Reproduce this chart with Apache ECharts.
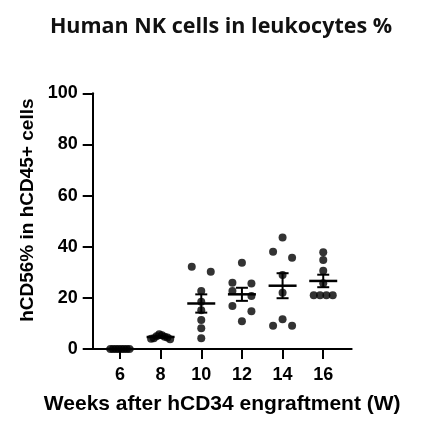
<!DOCTYPE html>
<html><head><meta charset="utf-8">
<script src="https://cdn.jsdelivr.net/npm/echarts@6/dist/echarts.min.js"></script>
<style>html,body{margin:0;padding:0;background:#fff}#c{width:423px;height:444px}</style>
</head><body><div id="c"></div>
<script>
// ---- data ----
const weeks = [6, 8, 10, 12, 14, 16];
const wk6  = [0, 0, 0, 0, 0, 0, 0, 0];
const wk8  = [5.8, 5.4, 5.0, 4.8, 4.5, 4.2, 4.0, 3.8];
const wk10 = [32.2, 30.2, 22.7, 18.5, 15.2, 11.3, 8.1, 4.2];
const wk12 = [33.7, 25.9, 25.6, 22.7, 20.7, 16.8, 14.8, 10.9];
const wk14 = [43.6, 38.0, 35.7, 28.9, 22.0, 11.6, 9.1, 9.1];
const wk16 = [37.8, 34.8, 30.6, 25.7, 21.0, 21.0, 21.0, 21.0];
const yTicks = [0, 20, 40, 60, 80, 100];
const titleText = 'Human NK cells in leukocytes %';
const yName = 'hCD56% in hCD45+ cells';
const xName = 'Weeks after hCD34 engraftment (W)';

const groups = [wk6, wk8, wk10, wk12, wk14, wk16];

const chart = echarts.init(document.getElementById('c'), null, {renderer: 'canvas'});
const FONT = '"Liberation Sans", Arial, sans-serif';
const black = '#000';

const baseOption = {
  animation: false,
  backgroundColor: '#fff',
  title: {
    text: titleText, left: 221, top: 16, textAlign: 'center', padding: 0,
    textStyle: {fontFamily: '"Open Sans", sans-serif', fontWeight: 'bold', fontSize: 21.5, color: '#111'}
  },
  grid: {left: 92.7, right: 71.3, top: 93.3, bottom: 95, containLabel: false},
  xAxis: {
    type: 'value', min: 4.66, max: 17.4,
    name: xName, nameLocation: 'middle', nameGap: 45,
    nameTextStyle: {fontFamily: FONT, fontWeight: 'bold', fontSize: 21, color: black},
    axisLine: {show: true, onZero: true, lineStyle: {color: black, width: 2}},
    axisTick: {show: true, customValues: weeks, length: 10, lineStyle: {color: black, width: 2}},
    axisLabel: {customValues: weeks, margin: 17, fontFamily: FONT, fontWeight: 'bold', fontSize: 18, color: black},
    splitLine: {show: false}
  },
  yAxis: {
    type: 'value', min: yTicks[0], max: yTicks[yTicks.length - 1], interval: 20,
    name: yName, nameLocation: 'middle', nameGap: 44,
    nameTextStyle: {fontFamily: FONT, fontWeight: 'bold', fontSize: 19, color: black, padding: [0, 0, 0, 22]},
    axisLine: {show: true, lineStyle: {color: black, width: 2}},
    axisTick: {show: true, length: 10, lineStyle: {color: black, width: 2}},
    axisLabel: {margin: 15, fontFamily: FONT, fontWeight: 'bold', fontSize: 18, color: black},
    splitLine: {show: false}
  },
  series: []
};
chart.setOption(baseOption);

// pixel scale of x axis to spread points horizontally (beeswarm-like layout)
const pxPerX = chart.convertToPixel({xAxisIndex: 0}, 1) - chart.convertToPixel({xAxisIndex: 0}, 0);
const binThreshold = 2.7; // value units

function swarm(week, vals) {
  const sorted = vals.slice().sort((a, b) => b - a);
  const clusters = [];
  sorted.forEach(v => {
    const c = clusters[clusters.length - 1];
    if (c && c[0] - v < binThreshold) c.push(v); else clusters.push([v]);
  });
  const out = [];
  clusters.forEach(c => {
    const n = c.length;
    const slots = [];
    for (let i = 0; i < n; i++) slots.push(n === 1 ? 0 : -9.5 + 19 * i / (n - 1));
    slots.sort((a, b) => Math.abs(a) - Math.abs(b) || a - b);
    c.forEach((v, i) => out.push([week + slots[i] / pxPerX, v]));
  });
  return out;
}

const points = [];
const stats = [];
groups.forEach((g, gi) => {
  swarm(weeks[gi], g).forEach(p => points.push(p));
  const n = g.length;
  const mean = g.reduce((a, b) => a + b, 0) / n;
  const sd = Math.sqrt(g.reduce((a, b) => a + (b - mean) * (b - mean), 0) / (n - 1));
  stats.push([weeks[gi], mean, sd / Math.sqrt(n)]);
});

chart.setOption({
  series: [
    {type: 'scatter', data: points, symbol: 'circle', symbolSize: 8, itemStyle: {color: black}, z: 2},
    {
      type: 'custom', data: stats, z: 3,
      renderItem: function (params, api) {
        const x = api.value(0), m = api.value(1), s = api.value(2);
        const c = api.coord([x, m]);
        const t = api.coord([x, m + s]);
        const b = api.coord([x, m - s]);
        const st = {stroke: black, lineWidth: 2.5};
        const st2 = {stroke: black, lineWidth: 2};
        return {type: 'group', children: [
          {type: 'line', shape: {x1: c[0] - 14, y1: c[1], x2: c[0] + 14, y2: c[1]}, style: st},
          {type: 'line', shape: {x1: c[0], y1: t[1], x2: c[0], y2: b[1]}, style: st2},
          {type: 'line', shape: {x1: c[0] - 6, y1: t[1], x2: c[0] + 6, y2: t[1]}, style: st2},
          {type: 'line', shape: {x1: c[0] - 6, y1: b[1], x2: c[0] + 6, y2: b[1]}, style: st2}
        ]};
      }
    }
  ]
});
</script>
</body></html>
